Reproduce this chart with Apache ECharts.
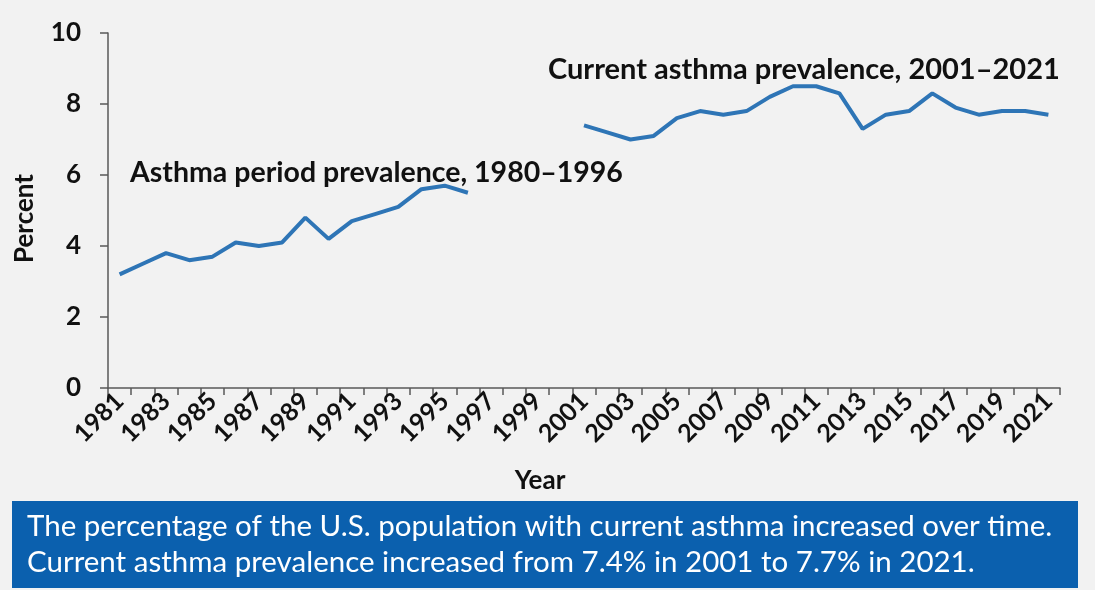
<!DOCTYPE html>
<html>
<head>
<meta charset="utf-8">
<script src="https://cdn.jsdelivr.net/npm/echarts@6/dist/echarts.min.js"></script>
<style>
  html, body { margin: 0; padding: 0; background: #f2f2f2; }
  #chart { width: 1095px; height: 590px; }
</style>
</head>
<body>
<div id="chart"></div>
<script>
// years on the axis
const years = []
for (let y = 1981; y <= 2021; y++) years.push(String(y))

// asthma period prevalence 1981-1996
const periodYears = ['1981','1982','1983','1984','1985','1986','1987','1988','1989','1990','1991','1992','1993','1994','1995','1996']
const periodValues = [3.2, 3.5, 3.8, 3.6, 3.7, 4.1, 4.0, 4.1, 4.8, 4.2, 4.7, 4.9, 5.1, 5.6, 5.7, 5.5]

// current asthma prevalence 2001-2021
const currentYears = ['2001','2002','2003','2004','2005','2006','2007','2008','2009','2010','2011','2012','2013','2014','2015','2016','2017','2018','2019','2020','2021']
const currentValues = [7.4, 7.2, 7.0, 7.1, 7.6, 7.8, 7.7, 7.8, 8.2, 8.5, 8.5, 8.3, 7.3, 7.7, 7.8, 8.3, 7.9, 7.7, 7.8, 7.8, 7.7]

const font = 'Lato, "Open Sans", sans-serif'
const lineColor = '#2e75b6'

const chart = echarts.init(document.getElementById('chart'))

const option = {
  backgroundColor: '#f2f2f2',
  animation: false,
  grid: { left: 108, right: 35, top: 33, bottom: 202, containLabel: false },
  xAxis: {
    type: 'category',
    data: years,
    boundaryGap: true,
    name: 'Year',
    nameLocation: 'middle',
    nameGap: 80,
    nameTextStyle: { color: '#111', fontFamily: font, fontWeight: 'bold', fontSize: 26, padding: [0, 88, 0, 0] },
    axisLine: { lineStyle: { color: '#595959', width: 1.5 } },
    axisTick: { show: true, interval: 0, length: 7, lineStyle: { color: '#595959', width: 1.5 } },
    axisLabel: {
      interval: 1,
      rotate: 45,
      margin: 9,
      color: '#111',
      fontFamily: font,
      fontWeight: 'bold',
      fontSize: 25
    }
  },
  yAxis: {
    type: 'value',
    min: 0,
    max: 10,
    interval: 2,
    name: 'Percent',
    nameLocation: 'middle',
    nameGap: 70,
    nameRotate: 90,
    nameTextStyle: { color: '#111', fontFamily: font, fontWeight: 'bold', fontSize: 26, padding: [0, 16, 0, 0] },
    axisLine: { show: true, lineStyle: { color: '#595959', width: 1.5 } },
    axisTick: { show: true, length: 8, lineStyle: { color: '#595959', width: 1.5 } },
    splitLine: { show: false },
    axisLabel: {
      margin: 27,
      color: '#111',
      fontFamily: font,
      fontWeight: 'bold',
      fontSize: 26
    }
  },
  series: [
    {
      name: 'Asthma period prevalence',
      type: 'line',
      data: periodYears.map((y, i) => [y, periodValues[i]]),
      showSymbol: false,
      lineStyle: { color: lineColor, width: 4 },
      itemStyle: { color: lineColor }
    },
    {
      name: 'Current asthma prevalence',
      type: 'line',
      data: currentYears.map((y, i) => [y, currentValues[i]]),
      showSymbol: false,
      lineStyle: { color: lineColor, width: 4 },
      itemStyle: { color: lineColor }
    }
  ],
  graphic: [
    {
      type: 'text',
      left: 130,
      top: 158,
      z: 10,
      style: { text: 'Asthma period prevalence, 1980\u20131996', fill: '#111', font: 'bold 28.5px ' + font }
    },
    {
      type: 'text',
      left: 548,
      top: 55,
      z: 10,
      style: { text: 'Current asthma prevalence, 2001\u20132021', fill: '#111', font: 'bold 29px ' + font }
    },
    {
      type: 'rect',
      left: 12,
      top: 501,
      shape: { width: 1066, height: 87 },
      style: { fill: '#0b60ae' }
    },
    {
      type: 'text',
      left: 27,
      top: 508,
      z: 10,
      style: {
        text: 'The percentage of the U.S. population with current asthma increased over time.\nCurrent asthma prevalence increased from 7.4% in 2001 to 7.7% in 2021.',
        fill: '#ffffff',
        font: '29.5px ' + font,
        lineHeight: 36
      }
    }
  ]
}

chart.setOption(option)
</script>
</body>
</html>
